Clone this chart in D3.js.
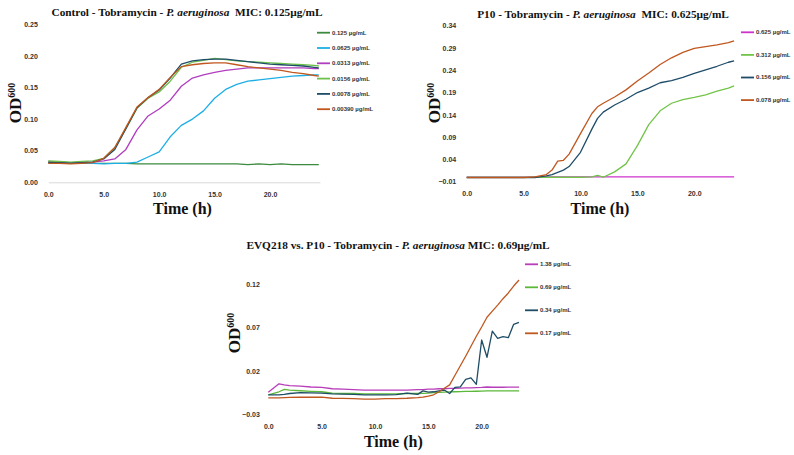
<!DOCTYPE html>
<html>
<head>
<meta charset="utf-8">
<script src="https://cdn.jsdelivr.net/npm/d3@7"></script>
<style>
  body { margin: 0; background: #fff; }
  .tick text { font-family: "Liberation Sans", Arial, sans-serif; font-weight: bold; font-size: 7px; fill: #333; }
</style>
</head>
<body>
<svg id="chart" width="794" height="455"></svg>
<script>
// ---------- Control - Tobramycin ----------
var controlTimes = [0,1,2,3,4,5,6,7,8,9,10,11,12,13,14,15,16,17,18,19,20,21,22,23,24,24.4];
var controlLabels = ["0.125 µg/mL", "0.0625 µg/mL", "0.0313 µg/mL", "0.0156 µg/mL", "0.0078 µg/mL", "0.00390 µg/mL"];
var control125  = [0.033,0.032,0.031,0.031,0.030,0.030,0.030,0.030,0.029,0.029,0.029,0.029,0.029,0.029,0.029,0.029,0.029,0.029,0.028,0.029,0.028,0.029,0.028,0.028,0.028,0.028];
var control0625 = [0.031,0.030,0.030,0.030,0.030,0.029,0.030,0.030,0.032,0.040,0.048,0.072,0.090,0.100,0.113,0.133,0.147,0.155,0.160,0.162,0.164,0.166,0.168,0.169,0.170,0.170];
var control0313 = [0.032,0.031,0.030,0.031,0.032,0.034,0.037,0.052,0.083,0.105,0.116,0.130,0.152,0.165,0.170,0.174,0.177,0.179,0.181,0.181,0.181,0.181,0.181,0.181,0.180,0.180];
var control0156 = [0.034,0.033,0.032,0.033,0.034,0.038,0.055,0.085,0.117,0.133,0.143,0.160,0.182,0.190,0.193,0.196,0.194,0.192,0.191,0.190,0.189,0.188,0.187,0.186,0.185,0.184];
var control0078 = [0.031,0.031,0.030,0.031,0.032,0.037,0.052,0.085,0.118,0.134,0.146,0.165,0.187,0.192,0.194,0.195,0.195,0.193,0.191,0.189,0.187,0.186,0.185,0.184,0.182,0.181];
var control0039 = [0.030,0.030,0.029,0.030,0.031,0.038,0.055,0.087,0.119,0.134,0.147,0.166,0.183,0.186,0.188,0.189,0.189,0.186,0.183,0.181,0.179,0.177,0.174,0.172,0.169,0.168];
var controlColors = ["#3b8a3e", "#1eaee6", "#b03cbf", "#6cc04a", "#1f4d69", "#c0571f"];
var controlYTicks = [0, 0.05, 0.10, 0.15, 0.20, 0.25];

// ---------- P10 - Tobramycin ----------
var p10Times = [0,1,2,3,4,5,6,7,7.5,8,8.5,9,10,11,11.5,12,13,14,15,16,17,18,19,20,21,22,23,23.5];
var p10Labels = ["0.625 µg/mL", "0.312 µg/mL", "0.156 µg/mL", "0.078 µg/mL"];
var p10_625 = [0.001,0.001,0.001,0.001,0.001,0.001,0.001,0.001,0.001,0.001,0.001,0.001,0.001,0.001,0.001,0.001,0.001,0.001,0.001,0.001,0.001,0.001,0.001,0.001,0.001,0.001,0.001,0.001];
var p10_312 = [0,0,0,0,0,0,0,0,0,0,0,0,0,0.001,0.004,0.000,0.012,0.030,0.071,0.118,0.149,0.166,0.174,0.179,0.185,0.193,0.200,0.205];
var p10_156 = [-0.001,-0.001,-0.001,-0.001,-0.001,-0.001,-0.001,0.003,0.006,0.011,0.016,0.024,0.056,0.108,0.132,0.146,0.162,0.175,0.190,0.200,0.212,0.217,0.224,0.233,0.241,0.249,0.258,0.261];
var p10_078 = [-0.001,-0.001,-0.001,-0.001,-0.001,-0.001,0.001,0.006,0.016,0.036,0.038,0.052,0.098,0.143,0.158,0.166,0.180,0.196,0.216,0.234,0.253,0.268,0.280,0.289,0.293,0.297,0.302,0.306];
var p10Colors = ["#cc33cc", "#72c44a", "#1f4d69", "#c0571f"];
var p10YTicks = [-0.01, 0.04, 0.09, 0.14, 0.19, 0.24, 0.29, 0.34];

// ---------- EVQ218 vs. P10 ----------
var evqTimes = [0,1,1.5,2,3,4,5,6,7,8,9,10,11,12,13,14,14.5,15,15.5,16,16.5,17,17.5,18,18.5,19,19.5,20,20.5,21,21.5,22,22.5,23,23.5];
var evqLabels = ["1.38 µg/mL", "0.69 µg/mL", "0.34 µg/mL", "0.17 µg/mL"];
var evq138 = [-0.0046,0.0052,0.004,0.003,0.0025,0.0015,0.001,-0.0005,-0.001,-0.0015,-0.002,-0.002,-0.002,-0.002,-0.002,-0.0015,-0.0015,-0.001,-0.001,-0.0005,-0.0005,0.0,0.0,0.0003,0.0005,0.0005,0.0008,0.001,0.0015,0.0012,0.0012,0.0012,0.0013,0.0013,0.0013];
var evq069 = [-0.0077,-0.004,-0.0012,-0.002,-0.0028,-0.0035,-0.004,-0.0055,-0.006,-0.006,-0.0065,-0.0065,-0.0065,-0.0065,-0.006,-0.006,-0.0058,-0.0055,-0.005,-0.0048,-0.0045,-0.0042,-0.004,-0.0038,-0.0036,-0.0035,-0.0034,-0.0033,-0.003,-0.003,-0.003,-0.003,-0.003,-0.003,-0.003];
var evq034 = [-0.0077,-0.0075,-0.007,-0.006,-0.005,-0.0052,-0.0055,-0.0065,-0.0068,-0.007,-0.0075,-0.0077,-0.0075,-0.0072,-0.0055,-0.007,-0.003,-0.0045,-0.004,-0.003,-0.002,-0.006,0.001,0.0016,0.0104,0.012,0.0046,0.0557,0.0358,0.066,0.0577,0.0595,0.0584,0.0738,0.076];
var evq017 = [-0.011,-0.011,-0.0108,-0.0105,-0.0102,-0.0103,-0.0103,-0.0115,-0.0117,-0.012,-0.0125,-0.0125,-0.012,-0.0118,-0.0115,-0.0108,-0.0103,-0.009,-0.0075,-0.004,0.0,0.004,0.015,0.026,0.037,0.0485,0.06,0.0707,0.082,0.089,0.096,0.1034,0.110,0.118,0.125];
var evqColors = ["#b83dba", "#5cb83a", "#1f4d66", "#c0571f"];
var evqYTicks = [-0.03, 0.02, 0.07, 0.12];

var xTicks = [0, 5, 10, 15, 20];

var svg = d3.select("#chart");

function drawChart(opt) {
    var g = svg.append("g");

    var x = d3.scaleLinear().domain(opt.xDomain).range(opt.xRange);
    var y = d3.scaleLinear().domain(opt.yDomain).range(opt.yRange);

    // title
    var title = g.append("text")
        .attr("x", opt.titleX)
        .attr("y", opt.titleY)
        .attr("text-anchor", "middle")
        .attr("font-family", "'Liberation Serif', 'Times New Roman', serif")
        .attr("font-weight", "bold")
        .attr("font-size", 11.3)
        .attr("fill", "#111");
    title.append("tspan").text(opt.title[0]);
    title.append("tspan").attr("font-style", "italic").text(opt.title[1]);
    title.append("tspan").text(opt.title[2]);

    // y axis
    var yAxis = g.append("g")
        .attr("transform", "translate(" + opt.xRange[0] + ",0)")
        .call(d3.axisLeft(y).tickValues(opt.yTicks).tickSize(0).tickPadding(opt.yPad).tickFormat(d3.format(".2f")));
    yAxis.select(".domain").remove();

    // x axis
    var xAxis = g.append("g")
        .attr("transform", "translate(0," + y(opt.yDomain[0]) + ")")
        .call(d3.axisBottom(x).tickValues(xTicks).tickSize(0).tickPadding(opt.xPad).tickFormat(d3.format(".1f")));
    if (opt.showBaseline) {
        xAxis.select(".domain").attr("stroke", "#d9d9d9").attr("stroke-width", 1);
    } else {
        xAxis.select(".domain").remove();
    }

    // axis titles
    g.append("text")
        .attr("x", opt.timeX)
        .attr("y", opt.timeY)
        .attr("text-anchor", "middle")
        .attr("font-family", "'Liberation Serif', 'Times New Roman', serif")
        .attr("font-weight", "bold")
        .attr("font-size", 16)
        .attr("fill", "#111")
        .text("Time (h)");

    var od = g.append("text")
        .attr("transform", "translate(" + opt.odX + "," + opt.odY + ") rotate(-90)")
        .attr("text-anchor", "middle")
        .attr("font-family", "'Liberation Serif', 'Times New Roman', serif")
        .attr("font-weight", "bold")
        .attr("font-size", 17)
        .attr("fill", "#111");
    od.append("tspan").text("OD");
    od.append("tspan").attr("font-size", 10).attr("dy", -6).text("600");

    // lines
    var line = d3.line()
        .x(function(d) { return x(d.t); })
        .y(function(d) { return y(d.v); });

    opt.series.forEach(function(s, i) {
        var pts = opt.times.map(function(t, j) { return {t: t, v: s[j]}; });
        g.append("path")
            .datum(pts)
            .attr("fill", "none")
            .attr("stroke", opt.colors[i])
            .attr("stroke-width", 1.3)
            .attr("stroke-linejoin", "round")
            .attr("d", line);
    });

    // legend
    var legend = g.append("g")
        .selectAll("g")
        .data(opt.labels)
        .enter().append("g")
        .attr("transform", function(d, i) { return "translate(" + opt.legendX + "," + (opt.legendY + i * opt.legendStep) + ")"; });

    legend.append("line")
        .attr("x1", 0).attr("x2", 13)
        .attr("stroke", function(d, i) { return opt.colors[i]; })
        .attr("stroke-width", 1.8);

    legend.append("text")
        .attr("x", 15)
        .attr("dy", "0.32em")
        .attr("font-family", "'Liberation Sans', Arial, sans-serif")
        .attr("font-weight", "bold")
        .attr("font-size", 6)
        .attr("fill", "#333")
        .text(function(d) { return d; });
}

drawChart({
    title: ["Control - Tobramycin - ", "P. aeruginosa", "\u00a0 MIC: 0.125µg/mL"],
    titleX: 187, titleY: 15.5,
    times: controlTimes,
    series: [control125, control0625, control0313, control0156, control0078, control0039],
    colors: controlColors, labels: controlLabels,
    xDomain: [0, 24.5], xRange: [48.3, 319.9],
    yDomain: [0, 0.25], yRange: [182.3, 24.3], yTicks: controlYTicks,
    yPad: 10.5, xPad: 9.5, showBaseline: true,
    timeX: 182.5, timeY: 214, odX: 21, odY: 103,
    legendX: 317, legendY: 32.7, legendStep: 15.3
});

drawChart({
    title: ["P10 - Tobramycin - ", "P. aeruginosa", "\u00a0 MIC: 0.625µg/mL"],
    titleX: 603, titleY: 17.5,
    times: p10Times,
    series: [p10_625, p10_312, p10_156, p10_078],
    colors: p10Colors, labels: p10Labels,
    xDomain: [0, 23.5], xRange: [466.7, 734.1],
    yDomain: [-0.01, 0.34], yRange: [181.7, 25.7], yTicks: p10YTicks,
    yPad: 10.5, xPad: 9.5, showBaseline: false,
    timeX: 600, timeY: 214, odX: 440, odY: 103,
    legendX: 741, legendY: 32.3, legendStep: 22.6
});

drawChart({
    title: ["EVQ218 vs. P10 - Tobramycin - ", "P. aeruginosa", " MIC: 0.69µg/mL"],
    titleX: 398, titleY: 248.5,
    times: evqTimes,
    series: [evq138, evq069, evq034, evq017],
    colors: evqColors, labels: evqLabels,
    xDomain: [0, 23.5], xRange: [268.3, 519.0],
    yDomain: [-0.03, 0.12], yRange: [414.3, 284.3], yTicks: evqYTicks,
    yPad: 8.5, xPad: 10, showBaseline: false,
    timeX: 393.3, timeY: 446.5, odX: 240, odY: 333,
    legendX: 525, legendY: 264.3, legendStep: 23
});
</script>
</body>
</html>
